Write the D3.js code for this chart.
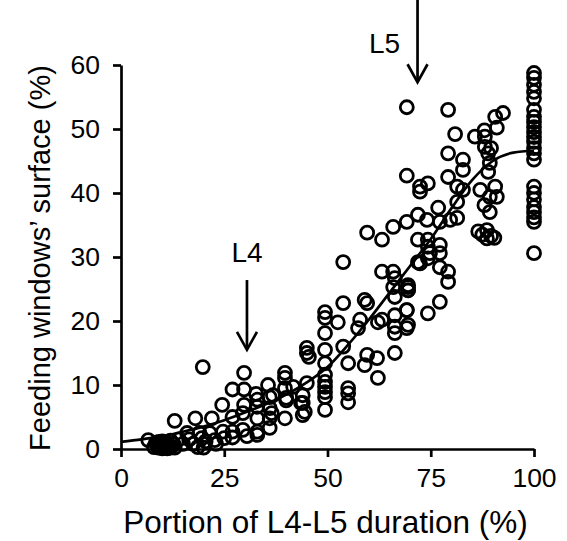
<!DOCTYPE html>
<html>
<head>
<meta charset="utf-8">
<script src="https://cdnjs.cloudflare.com/ajax/libs/d3/7.8.5/d3.min.js"></script>
<style>
	body { margin: 0; background: #fff; }
	svg text { font-family: "Liberation Sans", Arial, sans-serif; fill: #000; }
</style>
</head>
<body>
<script>
// observations: portion of L4-L5 duration (%) and feeding windows' surface (%)
var portion = [
	6.6, 8, 8.5, 9, 9.5, 10, 10, 10.5, 11, 11, 11.5, 12, 12, 12.5, 13, 13, 14, 15, 16, 16.5,
	17.5, 18, 18.6, 19, 19.6, 20, 19.8, 20.5, 21.5, 22, 22.7, 23, 24.5, 24.7, 25,
	8.8, 9.8, 10.8, 11.8, 12.8, 9.2, 11.2,
	27, 27, 27, 27, 29.8, 29.8, 29.8, 29.5, 29.5, 30.5, 32.7, 33, 33, 33, 33, 33,
	35.6, 36, 36, 36, 36, 36.5, 36.8, 39.7, 39.7, 39.7, 40, 40, 39.7, 41.7,
	44, 44, 44, 45, 45, 45, 45.5, 44.5, 43.6,
	49.4, 49.4, 49.4, 49.4, 49.4, 49.4, 49.4, 49.4, 49.4, 49.4, 49.4,
	53.8, 53.8, 52.5, 53.8, 55, 55, 55, 55, 57.9, 57.4, 59, 59.6, 62.2, 63.2, 59.6, 59, 62, 62.2,
	63.2, 65.9, 66.3, 65.9, 69.5, 69.5, 66.3, 66.3, 69.2, 66.3, 66.3, 69.2, 66.3,
	74.3, 77.2, 71.9, 74.3, 74.3, 77.2, 79.2, 79.2, 77.2,
	69.2, 79.2, 80.9, 85.7, 88, 88.1, 88.1, 89.6, 91, 90.6, 92.5, 79.2, 82.8, 82.8, 79.2,
	69.2, 72.4, 74.3, 72.4, 81.4, 82.8, 81.4, 87, 88, 89.3, 91, 89.3, 90.6, 88.9, 89.3, 88.9,
	86.5, 87.5, 88.6, 89.6, 90.4, 88.6,
	59.6, 63.2, 65.9, 69.2, 71.9, 74.1, 76.8, 77.2, 79.7, 81.4, 71.9, 74.3, 77.2, 74.8, 72.4,
	69.2, 69.5, 69.5, 69.5,
	100, 100, 100, 100, 100, 100, 100, 100, 100, 100, 100, 100, 100, 100, 100,
	100, 100, 100, 100, 100, 100, 100, 100
];
var surface = [
	1.4, 0.3, 1, 0.2, 0.8, 0.1, 1.2, 0.5, 0.3, 1, 0.6, 0.2, 1.3, 0.8, 0.2, 4.4, 1.5, 0.8, 2.5, 1.5,
	0.8, 4.8, 0.3, 2.5, 1.7, 0.2, 12.8, 1.2, 2.5, 4.8, 1.4, 0.8, 6.9, 2.7, 1.7,
	0.6, 0.4, 0.9, 0.5, 0.7, 1.1, 0.1,
	9.3, 5, 2.7, 1.8, 11.9, 9.3, 6.9, 5.6, 3, 2, 8.6, 7.7, 6.6, 4.8, 2.7, 2.2,
	10, 8.1, 6.4, 4.8, 3.3, 5.6, 8.4, 11.9, 11.1, 9.5, 8, 7.6, 4.8, 9.7,
	8.4, 7.2, 5.3, 10.3, 15.8, 15, 14.4, 5.8, 7.2,
	21.4, 20.5, 18.1, 15.5, 13.4, 11.6, 10.5, 9.7, 8.9, 8.1, 6.1,
	29.2, 22.8, 19.8, 16, 13.4, 9.5, 8.7, 7.3, 20.2, 18.9, 23.3, 22.8, 19.8, 20.2, 14.7, 13.1, 14.2, 11.1,
	27.7, 27.7, 26.7, 25.3, 25.6, 24.8, 23.75, 20.9, 21.7, 19.1, 18.1, 18.9, 15,
	21.2, 23, 29.2, 29.8, 31.6, 28.4, 27.7, 26.1, 31.9,
	53.4, 53, 49.2, 48.8, 49.8, 48.8, 47.2, 47, 50.2, 51.9, 52.5, 46.2, 45.2, 43.6, 42.5,
	42.7, 41, 41.5, 40.2, 41, 40.5, 38.6, 40.5, 38.1, 39.4, 39.4, 37, 41, 46.2, 44.7, 43.3,
	34, 33.5, 34.2, 33.3, 33, 32.9,
	33.8, 32.7, 34.7, 35.5, 36.6, 35.8, 37.7, 35.5, 35.8, 36.1, 32.7, 32.7, 30.6, 30.6, 29,
	21.7, 24.8, 25.3, 19.4,
	58.75, 58, 56.9, 55.8, 54.8, 53, 51.9, 51.1, 50.3, 49.5, 48.75, 48, 47, 46.2, 45.2,
	41, 40, 39, 37.8, 37, 36.2, 35.5, 30.6
];

// fitted trend line
var fitPortion = [0, 5, 10, 15, 20, 25, 30, 35, 40, 45, 50, 55, 60, 65, 70, 75, 80, 85, 90, 95, 100];
var fitSurface = [1.1, 1.5, 2, 2.7, 3.5, 4.5, 5.7, 7, 8.5, 10.4, 12.8, 16.3, 20.2, 24.4, 28.6, 32.8, 37.6, 42, 45, 46.3, 46.6];

var xTicks = [0, 25, 50, 75, 100];
var yTicks = [0, 10, 20, 30, 40, 50, 60];

// stage markers: label, portion (%), arrow top / tip in surface (%)
var stageLabels = ['L4', 'L5'];
var stagePortion = [30.5, 71.8];
var stageArrowTop = [26.4, 70.5];
var stageArrowTip = [15.5, 57.3];
var stageLabelY = [29.2, 61.9];

var SIZE = { width: 567, height: 541 };
var MARGIN = { top: 65, right: 33, bottom: 92, left: 121 };

var svg = d3.select('body').append('svg')
	.attr('width', SIZE.width)
	.attr('height', SIZE.height);

var w = SIZE.width - MARGIN.left - MARGIN.right;
var h = SIZE.height - MARGIN.top - MARGIN.bottom;

var x = d3.scaleLinear().domain([0, 100]).range([0, w]);
var y = d3.scaleLinear().domain([0, 60]).range([h, 0]);

var g = svg.append('g')
	.attr('transform', 'translate(' + MARGIN.left + ',' + MARGIN.top + ')');

// axes
var xAxis = g.append('g')
	.attr('transform', 'translate(0,' + h + ')')
	.call(d3.axisBottom(x).tickValues(xTicks).tickSize(8).tickPadding(11).tickSizeOuter(0));
var yAxis = g.append('g')
	.call(d3.axisLeft(y).tickValues(yTicks).tickSize(8).tickPadding(13).tickSizeOuter(0));

[xAxis, yAxis].forEach(function (a) {
	a.selectAll('path, line').attr('stroke', '#000').attr('stroke-width', 2.7);
	a.selectAll('text').style('font-size', '26.5px').attr('fill', '#000');
});

// trend line
var line = d3.line()
	.x(function (d, i) { return x(fitPortion[i]); })
	.y(function (d, i) { return y(fitSurface[i]); })
	.curve(d3.curveMonotoneX);

g.append('path')
	.datum(fitPortion)
	.attr('d', line)
	.attr('fill', 'none')
	.attr('stroke', '#000')
	.attr('stroke-width', 2.7);

// observations
g.selectAll('circle.obs')
	.data(portion)
	.enter()
	.append('circle')
	.classed('obs', true)
	.attr('cx', function (d) { return x(d); })
	.attr('cy', function (d, i) { return y(surface[i]); })
	.attr('r', 6.5)
	.attr('fill', 'none')
	.attr('stroke', '#000')
	.attr('stroke-width', 2.8);

// stage arrows
stageLabels.forEach(function (label, i) {
	var ax = x(stagePortion[i]);
	var tip = y(stageArrowTip[i]);
	g.append('line')
		.attr('x1', ax).attr('x2', ax)
		.attr('y1', y(stageArrowTop[i])).attr('y2', tip - 1)
		.attr('stroke', '#000').attr('stroke-width', 2.7);
	g.append('path')
		.attr('d', 'M' + (ax - 10) + ',' + (tip - 18) + 'L' + ax + ',' + tip + 'L' + (ax + 10) + ',' + (tip - 18))
		.attr('fill', 'none')
		.attr('stroke', '#000')
		.attr('stroke-width', 2.7);
	g.append('text')
		.attr('x', i === 0 ? ax : ax - 33)
		.attr('y', y(stageLabelY[i]))
		.attr('text-anchor', 'middle')
		.style('font-size', '28px')
		.text(label);
});

// axis titles
svg.append('text')
	.attr('x', MARGIN.left + w / 2 - 2)
	.attr('y', 533)
	.attr('text-anchor', 'middle')
	.style('font-size', '31.5px')
	.text('Portion of L4-L5 duration (%)');

svg.append('text')
	.attr('transform', 'translate(50,' + 258 + ') rotate(-90)')
	.attr('text-anchor', 'middle')
	.style('font-size', '29px')
	.text('Feeding windows\u2019 surface (%)');
</script>
</body>
</html>
